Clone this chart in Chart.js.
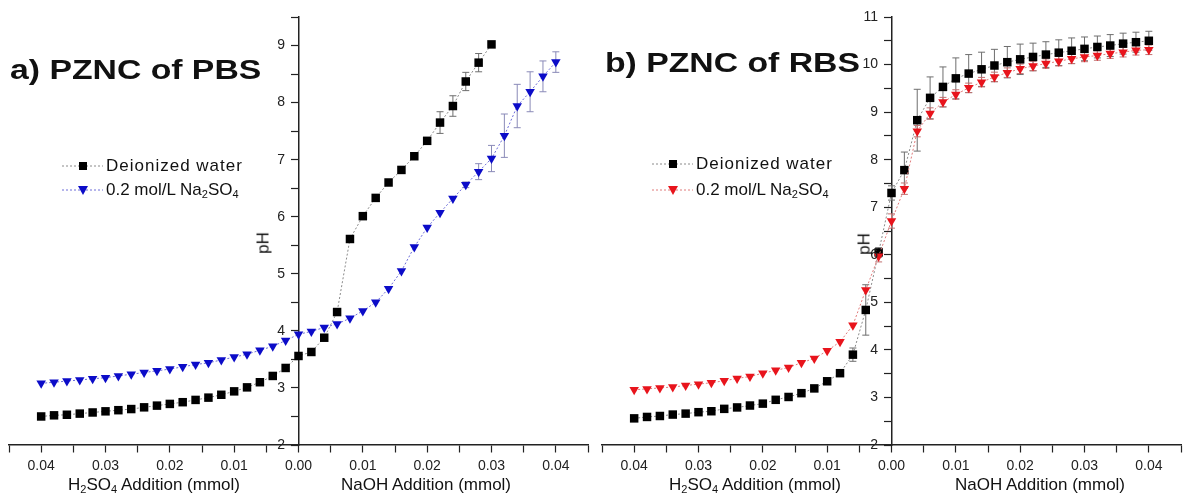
<!DOCTYPE html>
<html>
<head>
<meta charset="utf-8">
<title>PZNC of PBS and RBS</title>
<script src="https://cdn.jsdelivr.net/npm/chart.js@4.4.1/dist/chart.umd.min.js"></script>
<style>
    body {
        margin: 0;
        background: #fff;
        font-family: "Liberation Sans", Arial, sans-serif;
        color: #111;
    }
    .page {
        position: relative;
        width: 1187px;
        height: 499px;
        overflow: hidden;
    }
    canvas {
        position: absolute;
        top: 0;
    }
    #chartA { left: 0; }
    #chartB { left: 596px; }
    .title {
        position: absolute;
        font-weight: bold;
        font-size: 27px;
        line-height: 1;
        white-space: nowrap;
        transform: scaleX(1.25);
        transform-origin: left center;
    }
    .axis-title {
        position: absolute;
        font-size: 17px;
        line-height: 1;
        white-space: nowrap;
        transform: translateX(-50%);
    }
    .ph {
        position: absolute;
        font-size: 17px;
        line-height: 1;
        transform: translate(-50%, -50%) rotate(-90deg);
    }
    .legend-row {
        position: absolute;
        display: flex;
        align-items: center;
        height: 20px;
        font-size: 17px;
        white-space: nowrap;
    }
    .legend-row span { margin-left: 2px; }
    .legend-row .wide { letter-spacing: 1px; }
    sub {
        font-size: 0.65em;
        vertical-align: -0.25em;
        line-height: 0;
    }
</style>
</head>
<body>
<div class="page">
    <canvas id="chartA" width="596" height="499"></canvas>
    <canvas id="chartB" width="591" height="499"></canvas>

    <div class="title" style="left:10px; top:57px;">a) PZNC of PBS</div>
    <div class="title" style="left:605px; top:50px;">b) PZNC of RBS</div>

    <div class="legend-row" style="left:61px; top:156px;">
        <svg width="43" height="20"><line x1="1" y1="10" x2="42" y2="10" stroke="#8a8a8a" stroke-dasharray="2,2"/><rect x="18" y="6" width="8" height="8" fill="#000"/></svg>
        <span class="wide">Deionized water</span>
    </div>
    <div class="legend-row" style="left:61px; top:180px;">
        <svg width="43" height="20"><line x1="1" y1="10" x2="42" y2="10" stroke="#6c6cd8" stroke-dasharray="2,2"/><polygon points="17,6 27,6 22,15" fill="#0c0cc8"/></svg>
        <span>0.2 mol/L Na<sub>2</sub>SO<sub>4</sub></span>
    </div>

    <div class="legend-row" style="left:651px; top:154px;">
        <svg width="43" height="20"><line x1="1" y1="10" x2="42" y2="10" stroke="#8a8a8a" stroke-dasharray="2,2"/><rect x="18" y="6" width="8" height="8" fill="#000"/></svg>
        <span class="wide">Deionized water</span>
    </div>
    <div class="legend-row" style="left:651px; top:180px;">
        <svg width="43" height="20"><line x1="1" y1="10" x2="42" y2="10" stroke="#e07a7a" stroke-dasharray="2,2"/><polygon points="17,6 27,6 22,15" fill="#e8141c"/></svg>
        <span>0.2 mol/L Na<sub>2</sub>SO<sub>4</sub></span>
    </div>

    <div class="ph" style="left:263px; top:243px;">pH</div>
    <div class="ph" style="left:864px; top:244px;">pH</div>

    <div class="axis-title" style="left:154px; top:476px;">H<sub>2</sub>SO<sub>4</sub> Addition (mmol)</div>
    <div class="axis-title" style="left:426px; top:476px;">NaOH Addition (mmol)</div>
    <div class="axis-title" style="left:755px; top:476px;">H<sub>2</sub>SO<sub>4</sub> Addition (mmol)</div>
    <div class="axis-title" style="left:1040px; top:476px;">NaOH Addition (mmol)</div>
</div>

<script>
// acid side is negative, base side positive (mmol)
const additions = [
    -0.040, -0.038, -0.036, -0.034, -0.032, -0.030, -0.028, -0.026, -0.024, -0.022,
    -0.020, -0.018, -0.016, -0.014, -0.012, -0.010, -0.008, -0.006, -0.004, -0.002,
    0.000,
    0.002, 0.004, 0.006, 0.008, 0.010, 0.012, 0.014, 0.016, 0.018, 0.020,
    0.022, 0.024, 0.026, 0.028, 0.030, 0.032, 0.034, 0.036, 0.038, 0.040
];

// a) PBS
const pbsWater = [
    2.50, 2.52, 2.53, 2.55, 2.57, 2.59, 2.61, 2.63, 2.66, 2.69,
    2.72, 2.75, 2.79, 2.83, 2.88, 2.94, 3.01, 3.10, 3.21, 3.35,
    3.56,
    3.63, 3.88, 4.33, 5.61, 6.01, 6.33, 6.60, 6.82, 7.06, 7.33,
    7.65, 7.94, 8.37, 8.70, 9.02
];
const pbsWaterErr = [
    0, 0, 0, 0, 0, 0, 0, 0, 0, 0,
    0, 0, 0, 0, 0, 0, 0, 0, 0, 0,
    0,
    0, 0, 0, 0, 0, 0, 0, 0, 0, 0,
    0.19, 0.18, 0.16, 0.16, 0
];
const pbsSalt = [
    3.08, 3.10, 3.12, 3.14, 3.16, 3.18, 3.21, 3.24, 3.27, 3.30,
    3.33, 3.37, 3.41, 3.44, 3.49, 3.54, 3.59, 3.66, 3.73, 3.83,
    3.94,
    3.99, 4.06, 4.12, 4.22, 4.35, 4.50, 4.74, 5.05, 5.47, 5.81,
    6.07, 6.32, 6.56, 6.79, 7.02, 7.42, 7.94, 8.19, 8.46, 8.71
];
const pbsSaltErr = [
    0, 0, 0, 0, 0, 0, 0, 0, 0, 0,
    0, 0, 0, 0, 0, 0, 0, 0, 0, 0,
    0,
    0, 0, 0, 0, 0, 0, 0, 0, 0, 0,
    0, 0, 0.05, 0.14, 0.23, 0.38, 0.38, 0.35, 0.27, 0.18
];

// b) RBS
const rbsWater = [
    2.56, 2.59, 2.61, 2.64, 2.66, 2.69, 2.71, 2.76, 2.79, 2.83,
    2.87, 2.95, 3.01, 3.09, 3.19, 3.34, 3.51, 3.90, 4.84, 6.05,
    7.30,
    7.78, 8.83, 9.30, 9.53, 9.71, 9.81, 9.90, 9.98, 10.05, 10.11,
    10.16, 10.21, 10.25, 10.29, 10.33, 10.37, 10.40, 10.44, 10.47, 10.50
];
const rbsWaterErr = [
    0, 0, 0, 0, 0, 0, 0, 0, 0, 0,
    0, 0, 0, 0, 0, 0, 0, 0.14, 0.53, 0.10,
    0.15,
    0.38, 0.65, 0.44, 0.42, 0.43, 0.40, 0.36, 0.34, 0.33, 0.32,
    0.29, 0.27, 0.27, 0.27, 0.25, 0.23, 0.23, 0.22, 0.21, 0.20
];
const rbsSalt = [
    3.16, 3.18, 3.20, 3.22, 3.25, 3.28, 3.31, 3.35, 3.40, 3.44,
    3.51, 3.57, 3.63, 3.73, 3.82, 3.98, 4.17, 4.52, 5.26, 5.97,
    6.71,
    7.39, 8.60, 8.97, 9.21, 9.37, 9.51, 9.63, 9.74, 9.83, 9.91,
    9.97, 10.02, 10.07, 10.12, 10.16, 10.19, 10.23, 10.26, 10.30, 10.31
];
const rbsSaltErr = [
    0, 0, 0, 0, 0, 0, 0, 0, 0, 0,
    0, 0, 0, 0, 0, 0, 0, 0, 0, 0.12,
    0.15,
    0.12, 0.12, 0.12, 0.10, 0.10, 0.10, 0.10, 0.10, 0.10, 0.10,
    0.10, 0.10, 0.10, 0.10, 0.10, 0.10, 0.10, 0.10, 0.10, 0.10
];

const FONT = "'Liberation Sans', Arial, sans-serif";

Chart.defaults.font.family = FONT;
Chart.defaults.font.size = 14;
Chart.defaults.color = "#222";

function points(values) {
    return values.map((y, i) => ({ x: additions[i], y: y }));
}

// vertical error bars with caps, drawn under the markers
const errorBarPlugin = {
    id: "errorBars",
    beforeDatasetsDraw(chart) {
        const ctx = chart.ctx;
        const yScale = chart.scales.y;

        chart.data.datasets.forEach((ds, i) => {
            if (!ds.errors) return;
            const meta = chart.getDatasetMeta(i);
            ctx.save();
            ctx.strokeStyle = ds.errorColor;
            ctx.lineWidth = 1;
            meta.data.forEach((pt, j) => {
                const e = ds.errors[j];
                if (!e) return;
                const v = ds.data[j].y;
                const top = yScale.getPixelForValue(v + e);
                const bottom = yScale.getPixelForValue(v - e);
                ctx.beginPath();
                ctx.moveTo(pt.x, top);
                ctx.lineTo(pt.x, bottom);
                ctx.moveTo(pt.x - 3.5, top);
                ctx.lineTo(pt.x + 3.5, top);
                ctx.moveTo(pt.x - 3.5, bottom);
                ctx.lineTo(pt.x + 3.5, bottom);
                ctx.stroke();
            });
            ctx.restore();
        });
    }
};

// the y axis sits at x = 0, so its labels are put left of the tick marks here
const yLabelPlugin = {
    id: "yLabels",
    afterDraw(chart) {
        const ctx = chart.ctx;
        const yScale = chart.scales.y;
        const axisX = chart.scales.x.getPixelForValue(0);

        ctx.save();
        ctx.font = "14px " + FONT;
        ctx.fillStyle = "#222";
        ctx.textAlign = "right";
        ctx.textBaseline = "middle";
        yScale.ticks.forEach(t => {
            if (t.label) {
                ctx.fillText(t.label, axisX - 13.5, yScale.getPixelForValue(t.value));
            }
        });
        ctx.restore();
    }
};

function waterSet(values, errors) {
    return {
        data: points(values),
        errors: errors,
        errorColor: "#6e6e6e",
        showLine: true,
        borderColor: "#8a8a8a",
        borderWidth: 1,
        borderDash: [2, 2],
        pointStyle: "rect",
        pointRadius: 6,
        pointBackgroundColor: "#000",
        pointBorderColor: "#000",
        pointBorderWidth: 0,
        order: 1
    };
}

function saltSet(values, errors, color, lineColor, errColor) {
    return {
        data: points(values),
        errors: errors,
        errorColor: errColor,
        showLine: true,
        borderColor: lineColor,
        borderWidth: 1,
        borderDash: [2, 2],
        pointStyle: "triangle",
        pointRotation: 180,
        pointRadius: 5.5,
        pointBackgroundColor: color,
        pointBorderColor: color,
        pointBorderWidth: 0,
        order: 0
    };
}

function makeChart(id, yMax, datasets, padLeft, padRight) {
    return new Chart(
        document.getElementById(id).getContext("2d"),
    {
        type: "scatter",
        data: { datasets: datasets },
        plugins: [errorBarPlugin, yLabelPlugin],
        options: {
            responsive: false,
            animation: false,
            devicePixelRatio: 1,
            layout: {
                padding: { left: padLeft, right: padRight, top: 17, bottom: 54 }
            },
            plugins: {
                legend: { display: false },
                tooltip: { enabled: false }
            },
            scales: {
                x: {
                    type: "linear",
                    min: -0.045,
                    max: 0.045,
                    position: { y: 2 },
                    border: { color: "#222", width: 1.5 },
                    grid: { drawOnChartArea: false, tickLength: 7, color: "#222", tickWidth: 1.2 },
                    ticks: {
                        stepSize: 0.005,
                        autoSkip: false,
                        maxRotation: 0,
                        padding: 6,
                        callback: v => Math.abs(Math.round(v * 1000)) % 10 === 0
                            ? Math.abs(v).toFixed(2) : ""
                    }
                },
                y: {
                    type: "linear",
                    min: 2,
                    max: yMax,
                    position: { x: 0 },
                    border: { color: "#222", width: 1.5 },
                    grid: { drawOnChartArea: false, tickLength: 7, color: "#222", tickWidth: 1.2 },
                    ticks: {
                        display: false,
                        stepSize: 0.5,
                        autoSkip: false,
                        callback: v => Math.abs(v - Math.round(v)) < 1e-6 ? String(Math.round(v)) : ""
                    }
                }
            }
        }
    });
}

makeChart("chartA", 9.5, [
    waterSet(pbsWater, pbsWaterErr),
    saltSet(pbsSalt, pbsSaltErr, "#0c0cc8", "#6c6cd8", "#8a8ab8")
], 9, 8);

makeChart("chartB", 11, [
    waterSet(rbsWater, rbsWaterErr),
    saltSet(rbsSalt, rbsSaltErr, "#e8141c", "#e07a7a", "#c07070")
], 6, 2);
</script>
</body>
</html>
